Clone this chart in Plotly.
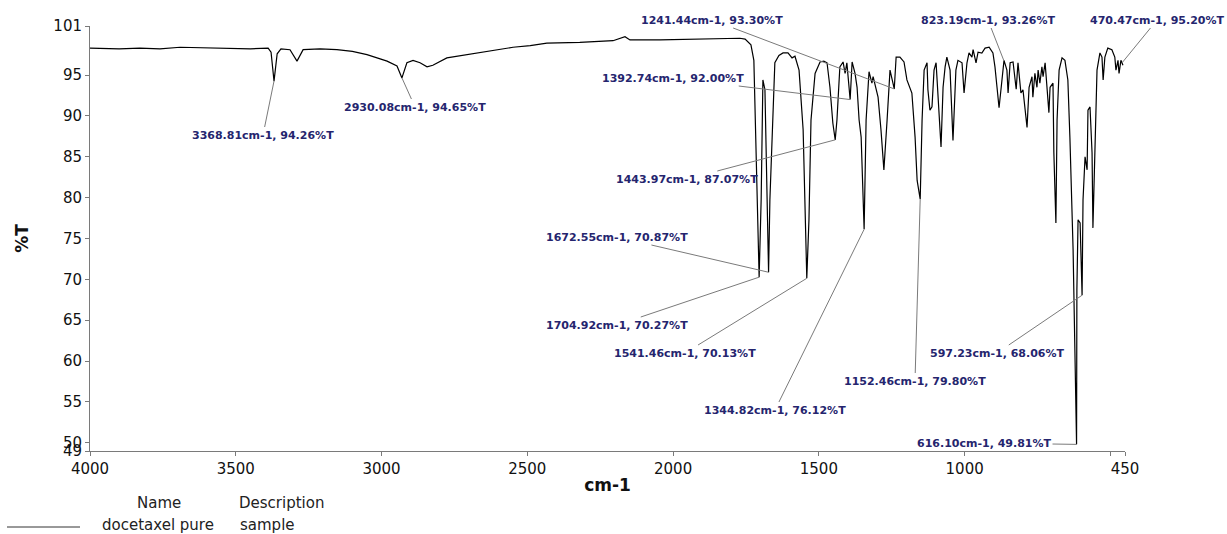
import plotly.graph_objects as go

# ---------------- data ----------------
wavenumber = [
    4000, 3900, 3829, 3760, 3691, 3600, 3520, 3450, 3389, 3379, 3368.81, 3358, 3345, 3314, 3290,
    3269, 3211, 3153, 3100, 3050, 2981, 2947, 2930.08, 2913, 2892, 2868, 2844, 2824, 2776, 2720,
    2662, 2600, 2549, 2490, 2433, 2320, 2206, 2165, 2148, 2045, 1908, 1771, 1753, 1733, 1723,
    1716, 1704.92, 1698, 1692, 1685, 1678, 1672.55, 1668, 1657, 1651, 1637, 1623, 1606, 1592, 1582,
    1568, 1554, 1548, 1541.46, 1534, 1527, 1513, 1496, 1483, 1472, 1462, 1452, 1443.97, 1438, 1428,
    1417, 1410, 1404, 1392.74, 1386, 1376, 1369, 1362, 1355, 1344.82, 1338, 1328, 1318, 1314, 1304,
    1297, 1287, 1277, 1266, 1256, 1241.44, 1235, 1222, 1208, 1198, 1187, 1181, 1170, 1163, 1152.46,
    1146, 1139, 1129, 1126, 1119, 1112, 1105, 1098, 1092, 1081, 1074, 1067, 1061, 1050, 1040,
    1030, 1023, 1009, 1002, 992, 985, 975, 971, 961, 954, 941, 930, 916, 903, 896,
    889, 882, 872, 865, 855, 851, 844, 834, 823.19, 817, 807, 800, 786, 779, 769,
    766, 759, 752, 748, 742, 735, 731, 724, 718, 711, 707, 697, 694, 687, 683,
    676, 666, 656, 646, 639, 628, 621, 616.10, 615, 611, 604, 597.23, 594, 587, 580,
    577, 570, 563, 560, 553, 546, 536, 529, 525, 519, 509, 495, 485, 481, 474,
    470.47, 464, 457,
]
transmittance = [
    98.3, 98.2, 98.3, 98.2, 98.4, 98.3, 98.3, 98.2, 98.3, 97.8, 94.26, 97.6, 98.2, 98.1, 96.7,
    98.1, 98.2, 98.1, 97.9, 97.5, 96.7, 96.1, 94.65, 96.5, 96.8, 96.5, 96.0, 96.2, 97.1, 97.4,
    97.8, 98.1, 98.4, 98.6, 98.9, 99.0, 99.2, 99.7, 99.3, 99.3, 99.4, 99.5, 99.4, 98.7, 96.8,
    85.8, 70.27, 79.7, 94.4, 93.2, 79.7, 70.87, 79.7, 92.0, 96.5, 97.4, 97.7, 97.7, 97.1, 97.3,
    95.6, 88.3, 79.7, 70.13, 77.3, 89.5, 95.2, 96.6, 96.7, 96.5, 93.5, 89.1, 87.07, 89.5, 96.0,
    96.6, 95.2, 96.5, 92.0, 96.6, 95.2, 93.5, 89.5, 87.4, 76.12, 89.5, 95.4, 94.0, 94.8, 93.5,
    92.3, 88.3, 83.4, 89.5, 95.6, 93.3, 97.2, 97.2, 96.6, 94.4, 93.2, 92.8, 87.4, 82.1, 79.8,
    89.5, 95.6, 96.5, 93.2, 90.7, 91.1, 95.6, 96.5, 92.8, 86.2, 93.5, 96.0, 97.2, 95.6, 87.0,
    95.6, 96.8, 96.5, 92.8, 96.5, 97.7, 97.2, 98.1, 96.5, 97.8, 97.7, 98.3, 98.4, 97.7, 96.0,
    93.5, 91.0, 94.4, 96.8, 95.6, 92.8, 96.5, 96.6, 93.26, 96.5, 92.8, 93.2, 88.6, 93.5, 94.8,
    92.3, 95.2, 93.5, 95.6, 94.0, 96.0, 94.8, 96.5, 93.5, 90.4, 93.5, 94.0, 85.5, 76.9, 89.5,
    95.6, 97.1, 96.8, 94.4, 87.4, 73.6, 60.1, 49.81, 68.7, 77.3, 76.9, 68.06, 79.7, 85.0, 83.4,
    90.7, 91.1, 85.5, 76.3, 85.5, 95.6, 97.7, 97.2, 94.4, 97.2, 98.3, 98.1, 97.2, 95.6, 96.8,
    95.2, 96.8, 96.2,
]

# labelled peaks (wavenumber, %T)
peak_wn = [3368.81, 2930.08, 1241.44, 1392.74, 1443.97, 1672.55, 1704.92, 1541.46,
           1344.82, 1152.46, 597.23, 616.10, 823.19, 470.47]
peak_T = [94.26, 94.65, 93.30, 92.00, 87.07, 70.87, 70.27, 70.13,
          76.12, 79.80, 68.06, 49.81, 93.26, 95.20]

x_ticks = [4000, 3500, 3000, 2500, 2000, 1500, 1000, 500, 450]
x_ticktext = ["4000", "3500", "3000", "2500", "2000", "1500", "1000", "", "450"]
y_ticks = [49, 50, 55, 60, 65, 70, 75, 80, 85, 90, 95, 101]

legend_name = "docetaxel pure"
legend_desc = "sample"

# ---------------- layout helpers ----------------
W, H = 1227, 534
L, R, T, B = 90, 1125, 26, 451  # plot area in pixels


def px_to_data(px, py):
    wn = 4000 - (px - L) * (4000 - 450) / (R - L)
    tv = 101 - (py - T) * (101 - 49) / (B - T)
    return wn, tv


def paper(px, py):
    return (px - L) / (R - L), (B - py) / (B - T)


# label centre positions (pixels) and arrow tips (data) for each peak label
label_pos = [(263, 135), (415, 107), (712, 20), (673, 78), (687, 179), (617, 237), (617, 325),
             (685, 353), (775, 410), (915, 381), (997, 353), (984, 443), (988, 20), (1157, 20)]
tip_override = {12: (866, 96.8), 13: (460, 96.5)}

fig = go.Figure()
fig.add_trace(go.Scatter(x=wavenumber, y=transmittance, mode="lines",
                         line=dict(color="black", width=1.2), showlegend=False,
                         hoverinfo="x+y"))

annotations = []
navy = "#25256e"
for i, (wn, tv) in enumerate(zip(peak_wn, peak_T)):
    tx, ty = tip_override.get(i, (wn, tv))
    cx, cy = px_to_data(*label_pos[i])
    annotations.append(dict(
        x=tx, y=ty, xref="x", yref="y", ax=cx, ay=cy, axref="x", ayref="y",
        text=f"{wn:.2f}cm-1, {tv:.2f}%T", showarrow=True, arrowhead=0,
        arrowwidth=1, arrowcolor="#7a7a7a", standoff=0,
        font=dict(family="DejaVu Sans", size=11, color=navy, weight="bold"),
    ))

legend_font = dict(family="DejaVu Sans", size=15, color="#222222")
for text, (px, py), anchor in [("Name", (159, 503), "center"),
                               ("Description", (237, 503), "left"),
                               (legend_name, (100, 525), "left"),
                               (legend_desc, (238, 525), "left")]:
    xp, yp = paper(px, py)
    annotations.append(dict(x=xp, y=yp, xref="paper", yref="paper", text=text,
                            showarrow=False, xanchor=anchor, yanchor="middle",
                            font=legend_font))

lx0, ly = paper(7, 527)
lx1, _ = paper(80, 527)

fig.update_layout(
    width=W, height=H,
    margin=dict(l=L, r=W - R, t=T, b=H - B),
    plot_bgcolor="white", paper_bgcolor="white",
    annotations=annotations,
    shapes=[dict(type="line", xref="paper", yref="paper", x0=lx0, x1=lx1, y0=ly, y1=ly,
                 line=dict(color="#333333", width=1))],
    xaxis=dict(range=[4000, 450], tickvals=x_ticks, ticktext=x_ticktext,
               showgrid=False, zeroline=False, showline=True, linecolor="#7a7a7a",
               linewidth=1, ticks="outside", ticklen=4, tickcolor="#7a7a7a",
               tickfont=dict(family="DejaVu Sans", size=15, color="#111111"),
               title=dict(text="<b>cm-1</b>", standoff=2,
                          font=dict(family="DejaVu Sans", size=17, color="#111111"))),
    yaxis=dict(range=[49, 101], tickvals=y_ticks,
               showgrid=False, zeroline=False, showline=True, linecolor="#7a7a7a",
               linewidth=1, ticks="outside", ticklen=4, tickcolor="#7a7a7a",
               tickfont=dict(family="DejaVu Sans", size=15, color="#111111"),
               title=dict(text="<b>%T</b>", standoff=20,
                          font=dict(family="DejaVu Sans", size=17, color="#111111"))),
)

fig.write_html("out.html")
